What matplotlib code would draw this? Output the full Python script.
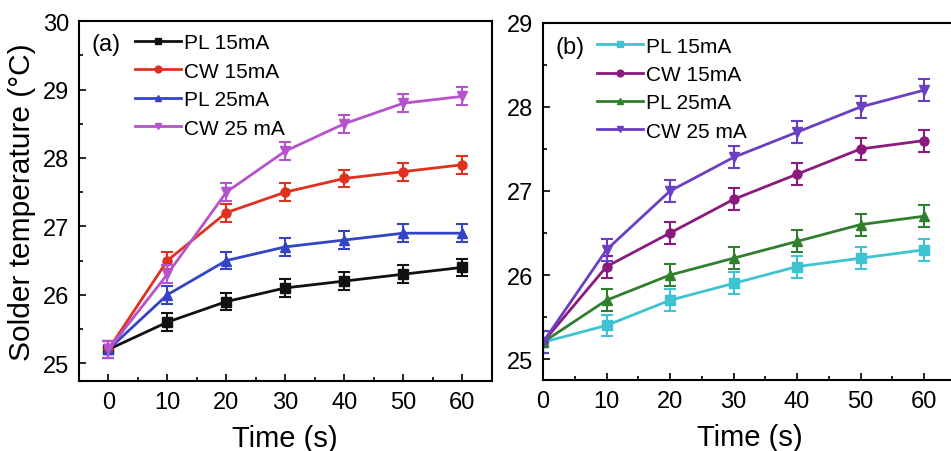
import matplotlib
matplotlib.use("Agg")
import matplotlib.pyplot as plt
from matplotlib.ticker import MultipleLocator

plt.rcParams['font.family'] = ['Liberation Sans', 'DejaVu Sans']

time_s = [0, 10, 20, 30, 40, 50, 60]

# Panel (a)
a_labels = ["PL 15mA", "CW 15mA", "PL 25mA", "CW 25 mA"]
a_pl15 = [25.2, 25.6, 25.9, 26.1, 26.2, 26.3, 26.4]
a_cw15 = [25.2, 26.5, 27.2, 27.5, 27.7, 27.8, 27.9]
a_pl25 = [25.2, 26.0, 26.5, 26.7, 26.8, 26.9, 26.9]
a_cw25 = [25.2, 26.3, 27.5, 28.1, 28.5, 28.8, 28.9]

# Panel (b)
b_labels = ["PL 15mA", "CW 15mA", "PL 25mA", "CW 25 mA"]
b_pl15 = [25.2, 25.4, 25.7, 25.9, 26.1, 26.2, 26.3]
b_cw15 = [25.2, 26.1, 26.5, 26.9, 27.2, 27.5, 27.6]
b_pl25 = [25.2, 25.7, 26.0, 26.2, 26.4, 26.6, 26.7]
b_cw25 = [25.2, 26.3, 27.0, 27.4, 27.7, 28.0, 28.2]

err = 0.13

markers = ["s", "o", "^", "v"]
a_colors = ["#111111", "#e0301e", "#3344c4", "#b653cc"]
b_colors = ["#3ec3d3", "#8b1a7e", "#2f7f2f", "#6a3fc4"]

fig = plt.figure(figsize=(9.51, 4.52), dpi=100)
ax1 = fig.add_axes([0.083, 0.155, 0.434, 0.796])
ax2 = fig.add_axes([0.571, 0.157, 0.434, 0.790])


def draw(ax, series, labels, colors, tag, leg_x, leg_y, tag_xy):
    for ys, lab, c, m in zip(series, labels, colors, markers):
        ax.errorbar(time_s, ys, yerr=err, fmt='none', ecolor=c,
                    elinewidth=1.5, capsize=4, capthick=1.5)
        ax.plot(time_s, ys, color=c, marker=m, markersize=6.5,
                linewidth=2, label=lab)
    ax.tick_params(axis='both', which='both', direction='in', top=False, right=False)
    ax.tick_params(which='major', length=5, width=1.2, labelsize=17)
    ax.tick_params(axis='x', which='major', pad=7)
    ax.tick_params(axis='y', which='major', pad=7)
    ax.tick_params(which='minor', length=3, width=1.2)
    ax.xaxis.set_major_locator(MultipleLocator(10))
    ax.xaxis.set_minor_locator(MultipleLocator(5))
    ax.yaxis.set_major_locator(MultipleLocator(1))
    ax.yaxis.set_minor_locator(MultipleLocator(0.5))
    for s in ax.spines.values():
        s.set_linewidth(1.5)
    ax.set_xlabel("Time (s)", fontsize=21, labelpad=8)
    ax.legend(loc='upper left', bbox_to_anchor=(leg_x, leg_y), frameon=False,
              fontsize=15, handlelength=2.2, handletextpad=0.15,
              labelspacing=0.45, borderaxespad=0, borderpad=0,
              markerscale=0.75)
    ax.text(tag_xy[0], tag_xy[1], tag, transform=ax.transAxes, fontsize=17,
            va='center', ha='left')


draw(ax1, [a_pl15, a_cw15, a_pl25, a_cw25], a_labels, a_colors, "(a)",
     0.136, 0.966, (0.031, 0.936))
ax1.set_xlim(-5, 65)
ax1.set_ylim(24.74, 30)
ax1.set_ylabel("Solder temperature (\u00b0C)", fontsize=21.5, labelpad=5)

draw(ax2, [b_pl15, b_cw15, b_pl25, b_cw25], b_labels, b_colors, "(b)",
     0.131, 0.962, (0.031, 0.934))
ax2.set_xlim(0, 65)
ax2.set_ylim(24.75, 29)

fig.savefig("out.png", dpi=100)
